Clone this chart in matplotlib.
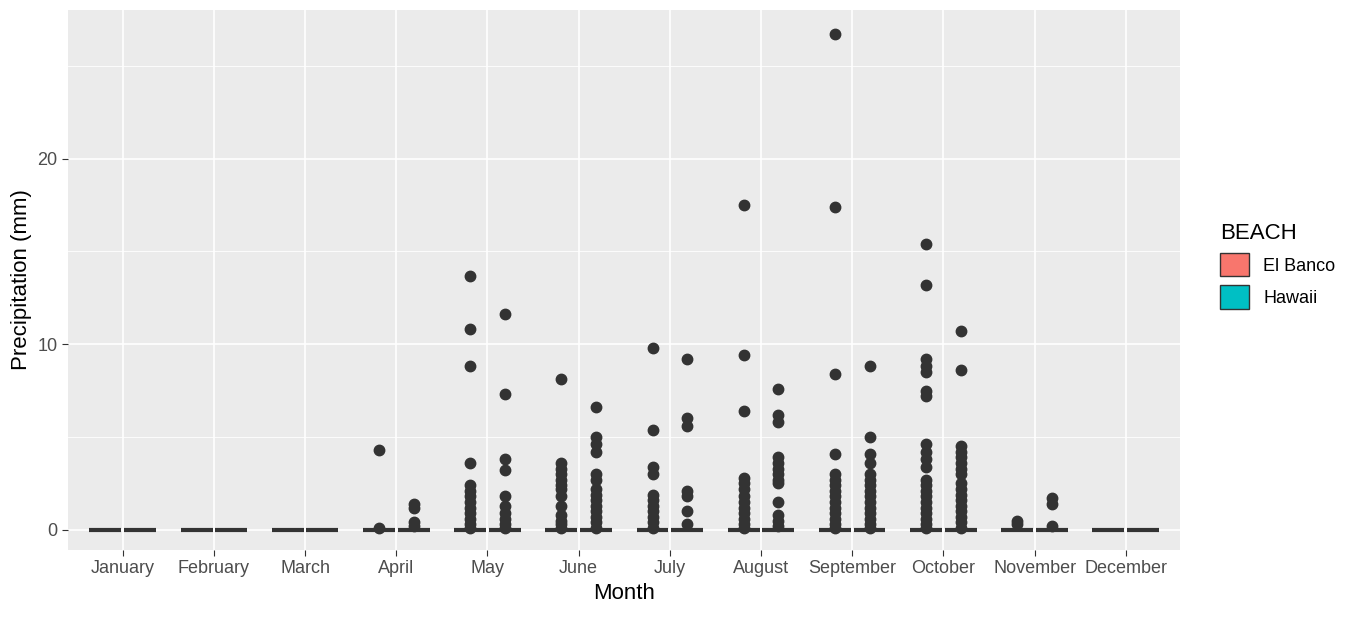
import matplotlib.pyplot as plt
from matplotlib.patches import Patch

plt.rcParams['font.family'] = ['Liberation Sans', 'DejaVu Sans']

months = ['January', 'February', 'March', 'April', 'May', 'June', 'July',
          'August', 'September', 'October', 'November', 'December']

# outlier precipitation values (mm) per month; boxes collapse to 0
el_banco_out = [
    [], [], [],
    [4.3, 0.1],
    [13.7, 10.8, 8.8, 3.6, 2.4, 2.1, 1.8, 1.5, 1.2, 0.9, 0.6, 0.3, 0.1],
    [8.1, 3.6, 3.3, 3.0, 2.7, 2.4, 2.2, 1.8, 1.3, 0.8, 0.5, 0.3, 0.1],
    [9.8, 5.4, 3.4, 3.0, 1.9, 1.6, 1.3, 1.0, 0.7, 0.4, 0.1],
    [17.5, 9.4, 6.4, 2.8, 2.5, 2.2, 1.8, 1.5, 1.2, 0.9, 0.6, 0.3, 0.1],
    [26.7, 17.4, 8.4, 4.1, 3.0, 2.7, 2.4, 2.1, 1.8, 1.5, 1.2, 0.9, 0.6, 0.3, 0.1],
    [15.4, 13.2, 9.2, 8.8, 8.5, 7.5, 7.2, 4.6, 4.2, 3.8, 3.4, 2.7, 2.4, 2.1,
     1.8, 1.5, 1.2, 0.9, 0.6, 0.3, 0.1],
    [0.5, 0.3],
    [],
]
hawaii_out = [
    [], [], [],
    [1.4, 1.2, 0.4, 0.2],
    [11.6, 7.3, 3.8, 3.2, 1.8, 1.3, 0.9, 0.6, 0.3, 0.1],
    [6.6, 5.0, 4.6, 4.2, 3.0, 2.7, 2.2, 1.9, 1.6, 1.3, 1.0, 0.7, 0.4, 0.1],
    [9.2, 6.0, 5.6, 2.1, 1.8, 1.0, 0.3],
    [7.6, 6.2, 5.8, 3.9, 3.6, 3.3, 3.0, 2.7, 2.5, 1.5, 0.8, 0.5, 0.2],
    [8.8, 5.0, 4.1, 3.6, 3.0, 2.7, 2.4, 2.1, 1.8, 1.5, 1.2, 0.9, 0.6, 0.3, 0.1],
    [10.7, 8.6, 4.5, 4.2, 3.9, 3.6, 3.3, 3.0, 2.5, 2.2, 1.9, 1.6, 1.3, 1.0,
     0.7, 0.4, 0.1],
    [1.7, 1.4, 0.2],
    [],
]

colors = {'El Banco': '#F8766D', 'Hawaii': '#00BFC4'}

fig = plt.figure(figsize=(13.6, 6.27), dpi=100)
ax = fig.add_axes([0.05, 0.123, 0.818, 0.861])
ax.set_facecolor('#EBEBEB')
for s in ax.spines.values():
    s.set_visible(False)

for label, data, off in [('El Banco', el_banco_out, -0.19), ('Hawaii', hawaii_out, 0.19)]:
    stats = []
    for fl in data:
        stats.append(dict(med=0, q1=0, q3=0, whislo=0, whishi=0, fliers=fl))
    pos = [i + 1 + off for i in range(len(months))]
    ax.bxp(stats, positions=pos, widths=0.35, patch_artist=True,
           boxprops=dict(facecolor=colors[label], edgecolor='#333333', linewidth=1.2),
           medianprops=dict(color='#333333', linewidth=3),
           whiskerprops=dict(color='#333333'), capprops=dict(linewidth=0),
           flierprops=dict(marker='o', markerfacecolor='#333333',
                           markeredgecolor='#333333', markersize=7.5))

ax.set_xlim(0.4, 12.6)
ax.set_ylim(-1.08, 28.0)
ax.set_xticks(range(1, 13))
ax.set_xticklabels(months)
ax.set_yticks([0, 10, 20])
ax.set_yticks([5, 15, 25], minor=True)
ax.grid(True, which='major', color='white', linewidth=1.2)
ax.grid(True, which='minor', color='white', linewidth=0.6)
ax.set_axisbelow(True)
ax.tick_params(axis='both', which='both', length=4, color='#333333', labelsize=13,
               labelcolor='#4D4D4D')
ax.tick_params(which='minor', length=0)
ax.set_xlabel('Month', fontsize=16, color='black')
ax.set_ylabel('Precipitation (mm)', fontsize=16, color='black')

handles = [Patch(facecolor=colors[k], edgecolor='#333333', label=k) for k in colors]
leg = fig.legend(handles=handles, title='BEACH', loc='upper left',
                 bbox_to_anchor=(0.885, 0.67), frameon=False, fontsize=13,
                 title_fontsize=16, handlelength=1.6, handleheight=1.6)
leg._legend_box.align = 'left'

fig.savefig('out.png', dpi=100)
